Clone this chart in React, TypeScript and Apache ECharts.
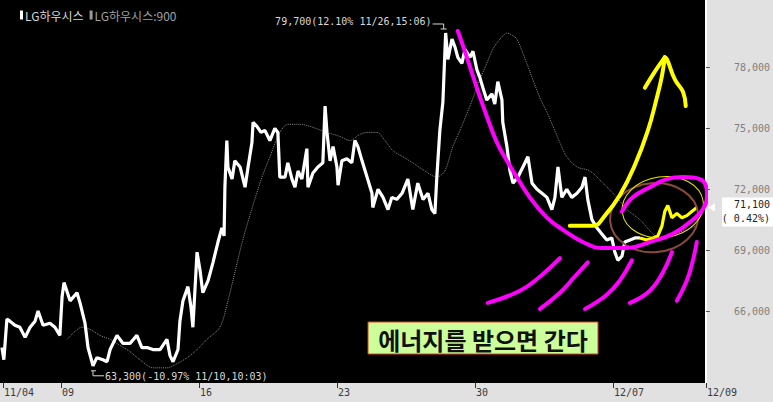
import React, { useEffect, useRef } from 'react';
import * as echarts from 'echarts';

const MONO = '"DejaVu Sans Mono", "Liberation Mono", monospace';
const KR = '"Noto Sans CJK KR", "Noto Sans", sans-serif';

// x axis: trading days since 11/09 open (fraction = share of the 6.5h session)
const dayTicks = [-2.1, 0, 5, 10, 15, 20, 23.37];
const dayLabels = ['11/04', '09', '16', '23', '30', '12/07', '12/09'];
const priceTicks = [66000, 69000, 72000, 75000, 78000];

const priceMain: [number, number][] = [
  [-2.14, 64200], [-2.07, 63600], [-1.96, 65600], [-1.85, 65500], [-1.67, 65300], [-1.49, 65200],
  [-1.30, 64700], [-1.12, 65200], [-0.94, 65500], [-0.83, 66000], [-0.65, 65300], [-0.40, 65400],
  [-0.22, 65200], [-0.04, 64800], [0.04, 66700], [0.11, 67400], [0.33, 66500], [0.58, 66900],
  [0.69, 66400], [0.87, 65400], [0.98, 64200], [1.16, 63300], [1.30, 63700], [1.52, 63600],
  [1.67, 63500], [1.78, 64100], [2.03, 64800], [2.25, 64400], [2.50, 64400], [2.75, 64800],
  [2.93, 64200], [3.12, 64200], [3.33, 64100], [3.59, 64100], [3.84, 64600], [3.95, 63800],
  [4.06, 63500], [4.24, 64100], [4.31, 65500], [4.42, 66500], [4.60, 67200], [4.71, 66200],
  [4.78, 65200], [4.93, 68900], [5.04, 68000], [5.14, 66900], [5.33, 67500], [5.51, 68400],
  [5.69, 69400], [5.83, 70100], [5.91, 69700], [5.94, 72100], [6.01, 74400], [6.05, 73100],
  [6.20, 72500], [6.30, 73400], [6.49, 73100], [6.67, 72100], [6.78, 73100], [6.92, 74300],
  [6.96, 75300], [7.10, 75100], [7.25, 74800], [7.39, 74900], [7.57, 74400], [7.75, 75000],
  [7.86, 74800], [7.93, 72600], [8.12, 72600], [8.22, 73300], [8.37, 72500], [8.48, 72100],
  [8.59, 72900], [8.73, 72500], [8.91, 74000], [8.95, 72100], [9.13, 72800], [9.31, 73100],
  [9.49, 73300], [9.57, 76100], [9.64, 74800], [9.75, 73400], [9.86, 74100], [10.00, 73100],
  [10.04, 72200], [10.18, 73400], [10.36, 73500], [10.54, 73300], [10.65, 74400], [10.76, 74100],
  [10.91, 73400], [11.09, 72600], [11.27, 71800], [11.30, 71100], [11.49, 72000], [11.67, 71600],
  [11.85, 71000], [11.99, 71600], [12.17, 71500], [12.36, 71800], [12.57, 72500], [12.75, 71000],
  [12.93, 72300], [13.12, 71500], [13.30, 71800], [13.44, 71000], [13.55, 70800], [13.62, 72600],
  [13.73, 74900], [13.84, 76300], [13.94, 79700], [14.02, 78400], [14.17, 79400], [14.28, 79000],
  [14.38, 78500], [14.53, 78200], [14.64, 78900], [14.82, 78500], [14.93, 78800], [15.07, 77900],
  [15.18, 77500], [15.29, 77000], [15.43, 76400], [15.62, 76700], [15.72, 76200], [15.83, 77300],
  [15.98, 76400], [16.01, 75300], [16.16, 74100], [16.27, 72900], [16.38, 72300], [16.56, 72600],
  [16.74, 73100], [16.92, 73600], [17.07, 72300], [17.25, 72000], [17.43, 71800], [17.61, 71600],
  [17.79, 71000], [17.90, 71600], [18.01, 73100], [18.15, 71600], [18.33, 72000], [18.51, 71600],
  [18.70, 71800], [18.88, 72100], [18.99, 72600], [19.09, 71500], [19.24, 70500], [19.42, 70100],
  [19.60, 69800], [19.78, 69500], [19.96, 69600], [20.07, 68900], [20.18, 68500], [20.33, 68700],
  [20.43, 69400], [20.62, 69500], [20.80, 69600], [20.98, 69600],
];

const priceLate: [number, number][] = [
  [20.98, 69600], [21.23, 69500], [21.45, 69600], [21.63, 69700], [21.78, 70200], [21.88, 70900],
  [21.99, 71200], [22.14, 70600], [22.32, 70800], [22.50, 70600], [22.68, 70700], [22.86, 70900],
  [23.04, 71100],
];

const ma900: [number, number][] = [
  [0.22, 64600], [0.51, 65000], [0.76, 65200], [1.05, 65100], [1.41, 64800], [1.78, 64600],
  [2.14, 64300], [2.50, 64000], [2.86, 63600], [3.33, 63200], [3.84, 63200], [4.20, 63400],
  [4.57, 63700], [4.93, 64100], [5.29, 64600], [5.76, 65200], [6.05, 66500], [6.59, 69500],
  [7.21, 72300], [7.57, 73600], [7.93, 74800], [8.22, 75200], [8.66, 75200], [9.02, 75100],
  [9.64, 74800], [10.11, 74600], [10.47, 74400], [10.83, 74700], [11.09, 74800], [11.45, 74800],
  [11.74, 74400], [12.03, 73900], [12.39, 73600], [12.75, 73300], [13.19, 72900], [13.62, 72600],
  [13.91, 72900], [14.20, 74100], [14.46, 74900], [14.82, 76100], [15.18, 77400], [15.43, 78200],
  [15.65, 78900], [15.91, 79400], [16.16, 79700], [16.34, 79600], [16.52, 79400], [16.88, 78200],
  [17.10, 77400], [17.36, 76500], [17.61, 75800], [17.83, 75100], [18.08, 74300], [18.33, 73600],
  [18.70, 73100], [19.17, 72900], [19.64, 72300], [20.14, 71600], [20.51, 71000], [20.98, 70500],
  [21.45, 69800], [21.70, 69600], [22.25, 69800], [23.04, 70200],
];

const highMark = { t: 13.94, v: 79700, text: '79,700(12.10% 11/26,15:06)' };
const lowMark = { t: 1.16, v: 63300, text: '63,300(-10.97% 11/10,10:03)' };
const lastMark = { v: 71100, text: '71,100', pct: '( 0.42%)' };

// hand-drawn annotations, in data coordinates
const pinkBowl: [number, number][] = [
  [14.38, 79800], [14.71, 78500], [15.07, 77000], [15.43, 75600], [15.80, 74300], [16.16, 73400],
  [16.52, 72600], [16.99, 71600], [17.61, 70600], [18.19, 70000], [18.91, 69400], [19.64, 69100],
  [20.51, 69100], [21.34, 69400], [22.17, 69800], [22.90, 70500], [23.30, 71100], [23.41, 71800],
  [23.15, 72500], [22.54, 72600], [21.96, 72500], [21.34, 72100], [20.72, 71600], [20.33, 70900],
];
const pinkStrokes: [number, number][][] = [
  [[15.47, 66400], [16.63, 67000], [17.36, 67700], [18.08, 68600]],
  [[17.36, 66100], [18.08, 66900], [18.62, 67700], [19.09, 68400]],
  [[18.99, 66100], [19.78, 66800], [20.25, 67500], [20.69, 68500]],
  [[20.62, 66400], [21.34, 67000], [21.81, 67900], [22.14, 68900]],
  [[22.32, 66500], [22.68, 67500], [22.90, 68500], [23.04, 69400]],
];
const arrowShaft: [number, number][] = [
  [18.44, 70200], [19.28, 70200], [19.71, 70700], [20.25, 71700], [20.80, 73200], [21.27, 74900],
  [21.59, 76500], [21.78, 77600], [21.88, 78500],
];
const arrowRight: [number, number][] = [[21.88, 78500], [21.96, 78400], [22.25, 77400], [22.54, 76800], [22.64, 76100]];
const arrowLeft: [number, number][] = [[21.88, 78500], [21.52, 77800], [21.16, 77000]];
// ellipses: centre, left-edge day, top price
const yellowRing = { t: 21.81, v: 71100, left: 20.33, top: 72600, rot: 0.14 };
const brownRing = { t: 21.49, v: 70600, left: 19.89, top: 72300, rot: 0.08 };

const boxText = '에너지를 받으면 간다';

function stroke(name: string, data: [number, number][], color: string, width: number, z = 6) {
  return {
    name, type: 'line', data, smooth: 0.45, symbol: 'none', showSymbol: false, clip: false, silent: true,
    lineStyle: { color, width, cap: 'round', join: 'round' }, z,
  };
}

export default function App() {
  const ref = useRef<HTMLDivElement>(null);
  useEffect(() => {
    document.body.style.margin = '0';
    const chart = echarts.init(ref.current!, null, { renderer: 'svg' });
    const series: any[] = [
      { name: 'LG하우시스', type: 'line', data: priceMain, symbol: 'none', showSymbol: false,
        color: '#ffffff', lineStyle: { color: '#ffffff', width: 3.2 }, z: 3 },
      { name: 'LG하우시스:900', type: 'line', data: ma900, symbol: 'none', showSymbol: false, smooth: 0.3,
        color: '#9a9a9a', lineStyle: { color: '#8a8a8a', width: 1, type: 'dotted' }, z: 2 },
      { name: 'late', type: 'line', data: priceLate, symbol: 'none', showSymbol: false,
        lineStyle: { color: '#ffff00', width: 3.2 }, z: 3 },
      stroke('bowl', pinkBowl, '#ff00ff', 4),
      ...pinkStrokes.map((s, i) => stroke('s' + i, s, '#ff00ff', 4)),
      stroke('shaft', arrowShaft, '#ffff00', 4, 7),
      stroke('right', arrowRight, '#ffff00', 4, 7),
      stroke('left', arrowLeft, '#ffff00', 4, 7),
    ];
    chart.setOption({
      animation: false,
      backgroundColor: '#e1e1e1',
      grid: { left: 0, right: 67, top: 0, bottom: 19, show: true, backgroundColor: '#000000', borderWidth: 0 },
      legend: {
        left: 15, top: 4, itemWidth: 3, itemHeight: 9, itemGap: 6, icon: 'rect', selectedMode: false,
        textStyle: { fontFamily: KR, fontSize: 12, padding: [0, 0, 0, -3] },
        data: [
          { name: 'LG하우시스', textStyle: { color: '#d6d6d6' }, itemStyle: { color: '#ffffff' } },
          { name: 'LG하우시스:900', textStyle: { color: '#a0a0a0' }, itemStyle: { color: '#9a9a9a' } },
        ],
      },
      xAxis: {
        type: 'value', min: -2.21, max: 23.37,
        axisLine: { show: false, onZero: false },
        axisTick: { show: true, customValues: dayTicks, length: 5, lineStyle: { color: '#333333' } },
        axisLabel: {
          customValues: dayTicks, color: '#3a3a3a', fontFamily: MONO, fontSize: 10, align: 'left', margin: 4,
          padding: [0, 0, 0, 1],
          formatter: (v: number) => {
            let best = 0;
            dayTicks.forEach((d, i) => { if (Math.abs(d - v) < Math.abs(dayTicks[best] - v)) best = i; });
            return dayLabels[best];
          },
        },
        splitLine: { show: false },
      },
      yAxis: {
        type: 'value', position: 'right', min: 62452, max: 81326,
        axisLine: { show: true, onZero: false, lineStyle: { color: '#ffffff', width: 2 } },
        axisTick: { show: true, customValues: priceTicks, length: 4, lineStyle: { color: '#555555' } },
        axisLabel: {
          customValues: priceTicks, color: '#808080', fontFamily: MONO, fontSize: 10, margin: 28,
          formatter: (v: number) => v.toLocaleString('en-US'),
        },
        splitLine: { show: false },
      },
      series,
    });

    const px = (t: number, v: number) => chart.convertToPixel({ seriesIndex: 0 }, [t, v]) as number[];
    const [hx, hy] = px(highMark.t, highMark.v);
    const [lx, ly] = px(lowMark.t, lowMark.v);
    const lastY = px(0, lastMark.v)[1];
    const ring = (r: typeof yellowRing, color: string, width: number) => {
      const [cx, cy] = px(r.t, r.v);
      const rx = cx - px(r.left, r.v)[0];
      const ry = cy - px(r.t, r.top)[1];
      return {
        type: 'ellipse', shape: { cx, cy, rx, ry }, rotation: r.rot, originX: cx, originY: cy, z: 4, silent: true,
        style: { fill: 'none', stroke: color, lineWidth: width },
      };
    };
    const labelColor = '#d8d8d8';
    chart.setOption({
      graphic: [
        { type: 'text', x: hx - 14, y: hy - 11, z: 10, silent: true,
          style: { text: highMark.text, fill: labelColor, font: `10px ${MONO}`, align: 'right', verticalAlign: 'middle' } },
        { type: 'polyline', z: 10, silent: true, shape: { points: [[hx - 13, hy - 9], [hx - 2, hy - 9], [hx - 2, hy - 4]] },
          style: { stroke: labelColor, lineWidth: 1, fill: 'none' } },
        { type: 'line', z: 10, silent: true, shape: { x1: hx - 5, y1: hy - 4, x2: hx + 1, y2: hy - 4 },
          style: { stroke: labelColor, lineWidth: 1 } },
        { type: 'text', x: lx + 12, y: ly + 11, z: 10, silent: true,
          style: { text: lowMark.text, fill: labelColor, font: `10px ${MONO}`, align: 'left', verticalAlign: 'middle' } },
        { type: 'polyline', z: 10, silent: true, shape: { points: [[lx, ly + 5], [lx, ly + 10], [lx + 11, ly + 10]] },
          style: { stroke: labelColor, lineWidth: 1, fill: 'none' } },
        { type: 'line', z: 10, silent: true, shape: { x1: lx - 2, y1: ly + 5, x2: lx + 3, y2: ly + 5 },
          style: { stroke: labelColor, lineWidth: 1 } },
        ring(brownRing, '#8c4a3c', 2),
        ring(yellowRing, '#e6e600', 1),
        { type: 'rect', z: 10, silent: true, shape: { x: 368, y: 322, width: 230, height: 32 },
          style: { fill: '#ccff99', stroke: '#e04020', lineWidth: 1 } },
        { type: 'text', x: 483, y: 339, z: 11, silent: true,
          style: { text: boxText, fill: '#111111', font: `bold 24px ${KR}`, align: 'center', verticalAlign: 'middle' } },
        { type: 'polygon', z: 10, silent: true, shape: { points: [[708, lastY], [715, lastY - 4], [715, lastY + 4]] },
          style: { fill: '#ffffff' } },
        { type: 'rect', z: 10, silent: true, shape: { x: 722, y: lastY - 10, width: 51, height: 29 },
          style: { fill: '#ffffff' } },
        { type: 'text', x: 770, y: lastY - 3, z: 11, silent: true,
          style: { text: lastMark.text, fill: '#222222', font: `10px ${MONO}`, align: 'right', verticalAlign: 'middle' } },
        { type: 'text', x: 770, y: lastY + 11, z: 11, silent: true,
          style: { text: lastMark.pct, fill: '#222222', font: `10px ${MONO}`, align: 'right', verticalAlign: 'middle' } },
      ],
    });
    return () => chart.dispose();
  }, []);
  return <div ref={ref} style={{ width: 773, height: 402 }} />;
}
